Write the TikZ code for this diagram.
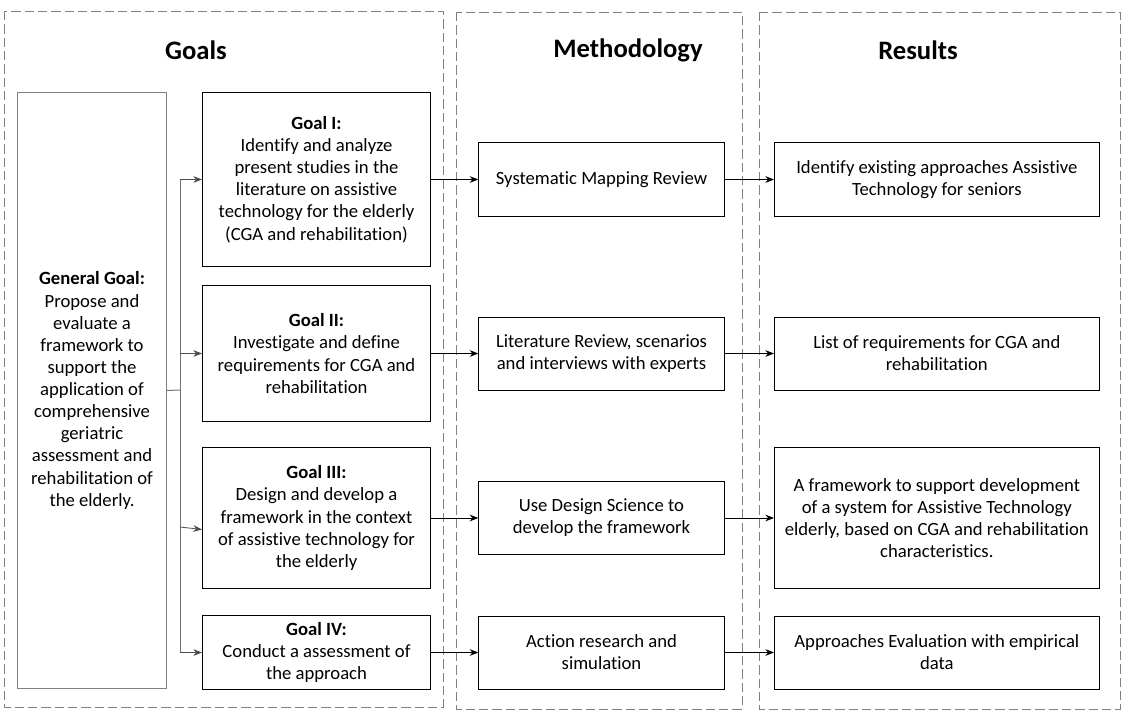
\documentclass[tikz,border=0pt]{standalone}
\usepackage{fontspec}
\setmainfont{Carlito}[Ligatures=NoCommon]
\usetikzlibrary{positioning,arrows.meta,calc}

\begin{document}
\begin{tikzpicture}[x=0.75pt,y=-0.75pt,node distance=35.5pt,
  font=\fontsize{14}{16.6}\selectfont]
   \tikzstyle{arrow} = [line width=0.6pt,->,>={Stealth[length=6.5pt,width=5pt]}]
   \tikzset{panel/.style = {draw=black!50, dash pattern=on 7pt off 3pt, line width=0.6pt}, }
   \tikzset{title/.style = {font=\fontsize{20}{24}\selectfont\bfseries}, }
   \tikzset{goal/.style = {rectangle, draw, line width=0.75pt, align=center, minimum width=171pt, inner sep=0pt}, }
   \tikzset{method/.style = {rectangle, draw, line width=0.75pt, align=center, minimum width=184pt, minimum height=54.75pt, inner sep=0pt}, }
   \tikzset{result/.style = {rectangle, draw, line width=0.75pt, align=center, minimum width=243.5pt, inner sep=0pt}, }
   \tikzset{bus/.style = {draw=black!55, line width=0.75pt}, }
   \useasboundingbox (0,0) rectangle (1126,720);

   % the three columns
   \draw[panel] (4,11) rectangle (443,707);
   \draw[panel] (456,12) rectangle (742,709);
   \draw[panel] (759,12) rectangle (1120,709);
   \node[title] (tgoals) at (196,50) {Goals};
   \node[title] (tmethod) at (628,50) {Methodology};
   \node[title] (tresults) at (918,50) {Results};

   % goals
   \node[rectangle, draw=black!50, line width=0.75pt, align=center, minimum width=111.75pt, minimum height=447pt, inner sep=0pt, anchor=north west]
   (general) at (17,92) {\textbf{General Goal:}\\Propose and\\evaluate a\\framework to\\support the\\application of\\comprehensive\\geriatric\\assessment and\\rehabilitation of\\the elderly.};
   \node[goal, minimum height=130.5pt, anchor=north west] (goal1) at (202,92)
   {\textbf{Goal I:}\\Identify and analyze\\present studies in the\\literature on assistive\\technology for the elderly\\(CGA and rehabilitation)};
   \node[goal, minimum height=102pt, below=13.5pt of goal1] (goal2)
   {\textbf{Goal II:}\\Investigate and define\\requirements for CGA and\\rehabilitation};
   \node[goal, minimum height=105.75pt, below=18.75pt of goal2] (goal3)
   {\textbf{Goal III:}\\Design and develop a\\framework in the context\\of assistive technology for\\the elderly};
   \node[goal, minimum height=55.5pt, below=19.5pt of goal3] (goal4)
   {\textbf{Goal IV:}\\Conduct a assessment of\\the approach};

   % methodology
   \node[method, right=of goal1] (smr) {Systematic Mapping Review};
   \node[method, right=of goal2] (litrev) {Literature Review, scenarios\\and interviews with experts};
   \node[method, right=of goal3] (dsci) {Use Design Science to\\develop the framework};
   \node[method, right=of goal4] (action) {Action research and\\simulation};

   % results
   \node[result, minimum height=54.75pt, right=37pt of smr] (res1) {Identify existing approaches Assistive\\Technology for seniors};
   \node[result, minimum height=54.75pt, right=37pt of litrev] (res2) {List of requirements for CGA and\\rehabilitation};
   \node[result, minimum height=105.75pt, right=37pt of dsci] (res3) {A framework to support development\\of a system for Assistive Technology\\elderly, based on CGA and rehabilitation\\characteristics.};
   \node[result, minimum height=54.75pt, right=37pt of action] (res4) {Approaches Evaluation with empirical\\data};

   % bus from the general goal
   \coordinate (bus) at (180,390);
   \draw[bus] (general.east) -- (bus);
   \draw[bus] (goal1.west -| bus) -- (goal4.west -| bus);
   \draw[arrow, draw=black!70] (goal1.west -| bus) -- (goal1.west);
   \draw[arrow, draw=black!70] (goal2.west -| bus) -- (goal2.west);
   \draw[arrow, draw=black!70] ($(goal3.west -| bus)+(0,9)$) -- ($(goal3.west)+(0,11.5)$);
   \draw[arrow, draw=black!70] (goal4.west -| bus) -- (goal4.west);

   \draw[arrow] (goal1) -- (smr);
   \draw[arrow] (goal2) -- (litrev);
   \draw[arrow] (goal3) -- (dsci);
   \draw[arrow] (goal4) -- (action);
   \draw[arrow] (smr) -- (res1);
   \draw[arrow] (litrev) -- (res2);
   \draw[arrow] (dsci) -- (res3);
   \draw[arrow] (action) -- (res4);
\end{tikzpicture}
\end{document}
